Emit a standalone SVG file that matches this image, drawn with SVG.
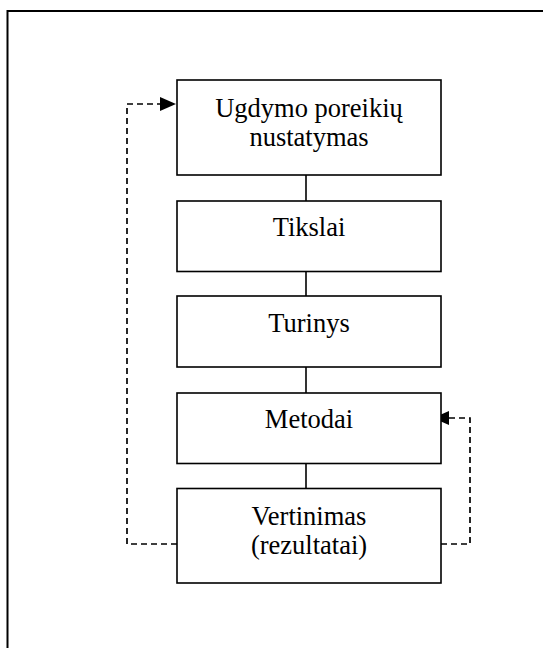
<svg xmlns="http://www.w3.org/2000/svg" width="543" height="648" viewBox="0 0 543 648">
<defs>
<style>
.frame{fill:none;stroke:#000;stroke-width:2}
.box{fill:#fff;stroke:#000;stroke-width:1.6}
.lbl{font-family:"Liberation Serif","Times New Roman",serif;font-size:26.5px;fill:#000;text-anchor:middle}
.link{fill:none;stroke:#000;stroke-width:1.6}
.dash{fill:none;stroke:#000;stroke-width:1.7;stroke-dasharray:6,4}
</style>
<marker id="ah" markerUnits="userSpaceOnUse" markerWidth="18" markerHeight="16" refX="16" refY="7" orient="auto">
<path d="M0,0 L16,7 L0,14 z" fill="#000"/>
</marker>
</defs>
<rect width="543" height="648" fill="#fff"/>
<path class="frame" d="M7.5,648 V11 H543"/>
<g id="connectors">
<line class="link" x1="306" y1="175" x2="306" y2="201"/>
<line class="link" x1="306" y1="271.5" x2="306" y2="296"/>
<line class="link" x1="306" y1="367" x2="306" y2="393"/>
<line class="link" x1="306" y1="463.5" x2="306" y2="488.5"/>
<path class="dash" d="M177,544 H127 V104 H176" marker-end="url(#ah)"/>
<path class="dash" d="M441,544 H470 V418 H433" marker-end="url(#ah)"/>
</g>
<g id="n1">
<rect class="box" x="177" y="80" width="264" height="95"/>
<text class="lbl" x="309" y="116.5">Ugdymo poreikių</text>
<text class="lbl" x="309" y="146">nustatymas</text>
</g>
<g id="n2">
<rect class="box" x="177" y="201" width="264" height="70.5"/>
<text class="lbl" x="309" y="236">Tikslai</text>
</g>
<g id="n3">
<rect class="box" x="177" y="296" width="264" height="71"/>
<text class="lbl" x="309" y="331.5">Turinys</text>
</g>
<g id="n4">
<rect class="box" x="177" y="393" width="264" height="70.5"/>
<text class="lbl" x="309" y="428">Metodai</text>
</g>
<g id="n5">
<rect class="box" x="177" y="488.5" width="264" height="94.5"/>
<text class="lbl" x="309" y="525">Vertinimas</text>
<text class="lbl" x="309" y="554">(rezultatai)</text>
</g>
</svg>
